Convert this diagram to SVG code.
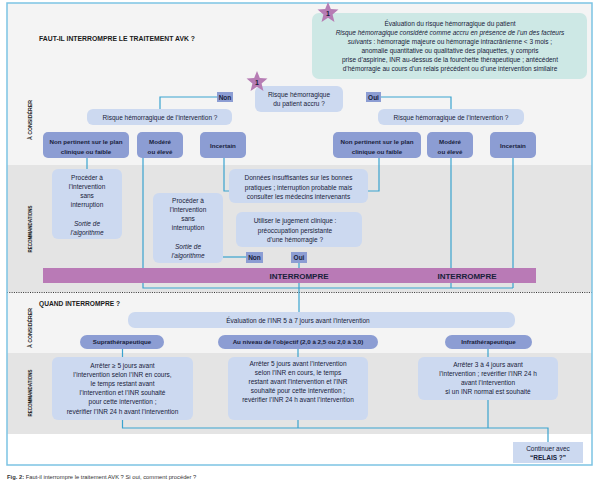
<svg xmlns="http://www.w3.org/2000/svg" width="600" height="486" viewBox="0 0 600 486">
<defs>
<style>
.t{font-family:"Liberation Sans",Arial,sans-serif;font-size:6.5px;fill:#18213a;text-anchor:middle}
.b{font-weight:bold}
.i{font-style:italic}
.s{font-size:6.2px}
.lbl{font-family:"Liberation Sans",Arial,sans-serif;font-weight:bold;font-size:6px;fill:#1a1a1a;text-anchor:middle}
.lb{fill:#ccd9f0}
.db{fill:#8c9dd3}
.tag{fill:#8c9dd3}
.conn{stroke:#3aa3cf;stroke-width:1.2;fill:none}
</style>
<polygon id="star" points="0,-11 2.82,-3.88 10.46,-3.4 4.57,1.48 6.47,8.9 0,4.8 -6.47,8.9 -4.57,1.48 -10.46,-3.4 -2.82,-3.88" fill="#b67cb4"/>
</defs>
<rect x="0" y="0" width="600" height="486" fill="#ffffff"/>
<g id="bands">
<rect x="7" y="3" width="585" height="162" fill="#f4f4f4"/>
<rect x="7" y="165" width="585" height="127" fill="#e4e4e4"/>
<rect x="7" y="292" width="585" height="61" fill="#f4f4f4"/>
<rect x="7" y="353" width="585" height="81" fill="#e4e4e4"/>
<rect x="7" y="434" width="585" height="31" fill="#ffffff"/>
<line x1="7" y1="292.5" x2="592" y2="292.5" stroke="#333" stroke-width="1" stroke-dasharray="1,1.3"/>
<rect x="7" y="3" width="585" height="462" fill="none" stroke="#7cc3e3" stroke-width="1.5"/>
</g>
<g id="labels">
<text class="lbl" x="39" y="40.5" style="text-anchor:start;font-size:6.5px" textLength="156" lengthAdjust="spacingAndGlyphs">FAUT-IL INTERROMPRE LE TRAITEMENT AVK ?</text>
<text class="lbl" x="39" y="305.5" style="text-anchor:start;font-size:6.5px" textLength="81" lengthAdjust="spacingAndGlyphs">QUAND INTERROMPRE ?</text>
<text class="lbl" transform="translate(31.5,120) rotate(-90)" textLength="40" lengthAdjust="spacingAndGlyphs">À CONSIDÉRER</text>
<text class="lbl" transform="translate(31.5,229) rotate(-90)" textLength="47" lengthAdjust="spacingAndGlyphs">RECOMMANDATIONS</text>
<text class="lbl" transform="translate(31.5,328) rotate(-90)" textLength="40" lengthAdjust="spacingAndGlyphs">À CONSIDÉRER</text>
<text class="lbl" transform="translate(31.5,393) rotate(-90)" textLength="47" lengthAdjust="spacingAndGlyphs">RECOMMANDATIONS</text>
</g>
<g id="connectors">
<path class="conn" d="M217,97 H160 V109"/>
<path class="conn" d="M381,97 H451 V109"/>
<path class="conn" d="M87,158 V169"/>
<path class="conn" d="M224,158 V191 H229"/>
<path class="conn" d="M379,158 V191 H368"/>
<path class="conn" d="M223,257 H246"/>
<path class="conn" d="M143,158 V288 H513"/>
<path class="conn" d="M451,158 V288"/>
<path class="conn" d="M513,158 V288"/>
<path class="conn" d="M299,263 V312"/>
<path class="conn" d="M122.5,349 V357"/>
<path class="conn" d="M298,349 V357"/>
<path class="conn" d="M488,349 V357"/>
<path class="conn" d="M122.5,420 V428 H548 V442"/>
<path class="conn" d="M298,420 V428"/>
<path class="conn" d="M488,400 V428"/>
</g>
<g id="info">
<rect x="312" y="13" width="275" height="66" rx="7" fill="#cde8e5"/>
<text class="t" x="450" y="26.3">Évaluation du risque hémorragique du patient</text>
<text class="t i" x="450" y="35.3">Risque hémorragique considéré comme accru en présence de l’un des facteurs</text>
<text class="t" x="450" y="44.3"><tspan class="i">suivants</tspan> : hémorragie majeure ou hémorragie intracrânienne &lt; 3 mois ;</text>
<text class="t" x="450" y="53.3">anomalie quantitative ou qualitative des plaquettes, y compris</text>
<text class="t" x="450" y="62.3">prise d’aspirine, INR au-dessus de la fourchette thérapeutique ; antécédent</text>
<text class="t" x="450" y="71.3">d’hémorragie au cours d’un relais précédent ou d’une intervention similaire</text>
<use href="#star" x="328" y="13"/>
<text class="t b" x="328" y="15.5" style="font-size:7px">1</text>
</g>
<g id="patient">
<rect x="255" y="86" width="88" height="26" rx="6" class="lb"/>
<text class="t" x="299" y="97.3">Risque hémorragique</text>
<text class="t" x="299" y="106.3">du patient accru ?</text>
<use href="#star" x="257" y="82"/>
<text class="t b" x="257" y="84.5" style="font-size:7px">1</text>
</g>
<g id="non1">
<rect x="217" y="92" width="16" height="10" class="tag"/>
<text class="t b" x="225" y="99.5">Non</text>
</g>
<g id="oui1">
<rect x="366" y="92" width="15" height="10" class="tag"/>
<text class="t b" x="373.5" y="99.5">Oui</text>
</g>
<g id="risk-left">
<rect x="87" y="109" width="145" height="16" rx="6" class="lb"/>
<text class="t" x="160" y="119.5">Risque hémorragique de l’intervention ?</text>
</g>
<g id="risk-right">
<rect x="378" y="109" width="146" height="16" rx="6" class="lb"/>
<text class="t" x="451" y="119.5">Risque hémorragique de l’intervention ?</text>
</g>
<g id="np-left">
<rect x="43" y="132" width="86" height="26" rx="5" class="db"/>
<text class="t b s" x="86" y="143.5">Non pertinent sur le plan</text>
<text class="t b s" x="86" y="153.5">clinique ou faible</text>
</g>
<g id="mod-left">
<rect x="137" y="132" width="46" height="26" rx="5" class="db"/>
<text class="t b s" x="160" y="143.5">Modéré</text>
<text class="t b s" x="160" y="153.5">ou élevé</text>
</g>
<g id="inc-left">
<rect x="200" y="132" width="46" height="26" rx="5" class="db"/>
<text class="t b s" x="223" y="147.5">Incertain</text>
</g>
<g id="np-right">
<rect x="333" y="132" width="88" height="26" rx="5" class="db"/>
<text class="t b s" x="377" y="143.5">Non pertinent sur le plan</text>
<text class="t b s" x="377" y="153.5">clinique ou faible</text>
</g>
<g id="mod-right">
<rect x="427" y="132" width="46" height="26" rx="5" class="db"/>
<text class="t b s" x="450" y="143.5">Modéré</text>
<text class="t b s" x="450" y="153.5">ou élevé</text>
</g>
<g id="inc-right">
<rect x="490" y="132" width="46" height="26" rx="5" class="db"/>
<text class="t b s" x="513" y="147.5">Incertain</text>
</g>
<g id="proceed1">
<rect x="52" y="169" width="70" height="70" rx="6" class="lb"/>
<text class="t" x="87" y="179.5">Procéder à</text>
<text class="t" x="87" y="188.7">l’intervention</text>
<text class="t" x="87" y="197.9">sans</text>
<text class="t" x="87" y="207.1">interruption</text>
<text class="t i" x="87" y="225.5">Sortie de</text>
<text class="t i" x="87" y="234.7">l’algorithme</text>
</g>
<g id="data">
<rect x="229" y="169" width="139" height="34" rx="6" class="lb"/>
<text class="t" x="298.5" y="180.3">Données insuffisantes sur les bonnes</text>
<text class="t" x="298.5" y="189.5">pratiques ; interruption probable mais</text>
<text class="t" x="298.5" y="198.7">consulter les médecins intervenants</text>
</g>
<g id="proceed2">
<rect x="153" y="193" width="70" height="70" rx="6" class="lb"/>
<text class="t" x="188" y="202.5">Procéder à</text>
<text class="t" x="188" y="211.7">l’intervention</text>
<text class="t" x="188" y="220.9">sans</text>
<text class="t" x="188" y="230.1">interruption</text>
<text class="t i" x="188" y="248.5">Sortie de</text>
<text class="t i" x="188" y="257.7">l’algorithme</text>
</g>
<g id="judge">
<rect x="236" y="212" width="126" height="35" rx="6" class="lb"/>
<text class="t" x="295" y="223.3">Utiliser le jugement clinique :</text>
<text class="t" x="295" y="232.5">préoccupation persistante</text>
<text class="t" x="295" y="241.7">d’une hémorragie ?</text>
</g>
<g id="non2">
<rect x="246" y="252" width="17" height="11" class="tag"/>
<text class="t b" x="254.5" y="260">Non</text>
</g>
<g id="oui2">
<rect x="291" y="252" width="16" height="11" class="tag"/>
<text class="t b" x="299" y="260">Oui</text>
</g>
<g id="interrompre">
<rect x="43" y="268" width="493" height="15" fill="#b97ab6"/>
<text class="t b" x="299" y="278.8" style="font-size:8px">INTERROMPRE</text>
<text class="t b" x="467" y="278.8" style="font-size:8px">INTERROMPRE</text>
</g>
<g id="eval">
<rect x="128" y="312" width="387" height="16" rx="7" class="lb"/>
<text class="t" x="298" y="322.5">Évaluation de l’INR 5 à 7 jours avant l’intervention</text>
</g>
<g id="supra">
<rect x="80" y="335" width="84" height="14" rx="7" class="db"/>
<text class="t b s" x="122" y="344.3">Suprathérapeutique</text>
</g>
<g id="target">
<rect x="218" y="335" width="160" height="14" rx="7" class="db"/>
<text class="t b s" x="298" y="344.3">Au niveau de l’objectif (2,0 à 2,5 ou 2,0 à 3,0)</text>
</g>
<g id="infra">
<rect x="445" y="335" width="87" height="14" rx="7" class="db"/>
<text class="t b s" x="488.5" y="344.3">Infrathérapeutique</text>
</g>
<g id="stop1">
<rect x="52" y="357" width="141" height="63" rx="6" class="lb"/>
<text class="t" x="122.5" y="367.5">Arrêter ≥ 5 jours avant</text>
<text class="t" x="122.5" y="376.7">l’intervention selon l’INR en cours,</text>
<text class="t" x="122.5" y="385.9">le temps restant avant</text>
<text class="t" x="122.5" y="395.1">l’intervention et l’INR souhaité</text>
<text class="t" x="122.5" y="404.3">pour cette intervention ;</text>
<text class="t" x="122.5" y="413.5">revérifier l’INR 24 h avant l’intervention</text>
</g>
<g id="stop2">
<rect x="228" y="357" width="140" height="63" rx="6" class="lb"/>
<text class="t" x="298" y="365.5">Arrêter 5 jours avant l’intervention</text>
<text class="t" x="298" y="374.7">selon l’INR en cours, le temps</text>
<text class="t" x="298" y="383.9">restant avant l’intervention et l’INR</text>
<text class="t" x="298" y="393.1">souhaité pour cette intervention ;</text>
<text class="t" x="298" y="402.3">revérifier l’INR 24 h avant l’intervention</text>
</g>
<g id="stop3">
<rect x="418" y="357" width="140" height="43" rx="6" class="lb"/>
<text class="t" x="488" y="366.5">Arrêter 3 à 4 jours avant</text>
<text class="t" x="488" y="375.7">l’intervention ; revérifier l’INR 24 h</text>
<text class="t" x="488" y="384.9">avant l’intervention</text>
<text class="t" x="488" y="394.1">si un INR normal est souhaité</text>
</g>
<g id="relais">
<rect x="513" y="442" width="70" height="21" class="lb"/>
<text class="t" x="548" y="451">Continuer avec</text>
<text class="t b" x="548" y="459.5">“RELAIS ?”</text>
</g>
<g id="caption">
<text x="7" y="479" style="font-family:'Liberation Sans',Arial,sans-serif;font-size:5.8px;fill:#333"><tspan font-weight="bold">Fig. 2:</tspan> Faut-il interrompre le traitement AVK ? Si oui, comment procéder ?</text>
</g>
</svg>
